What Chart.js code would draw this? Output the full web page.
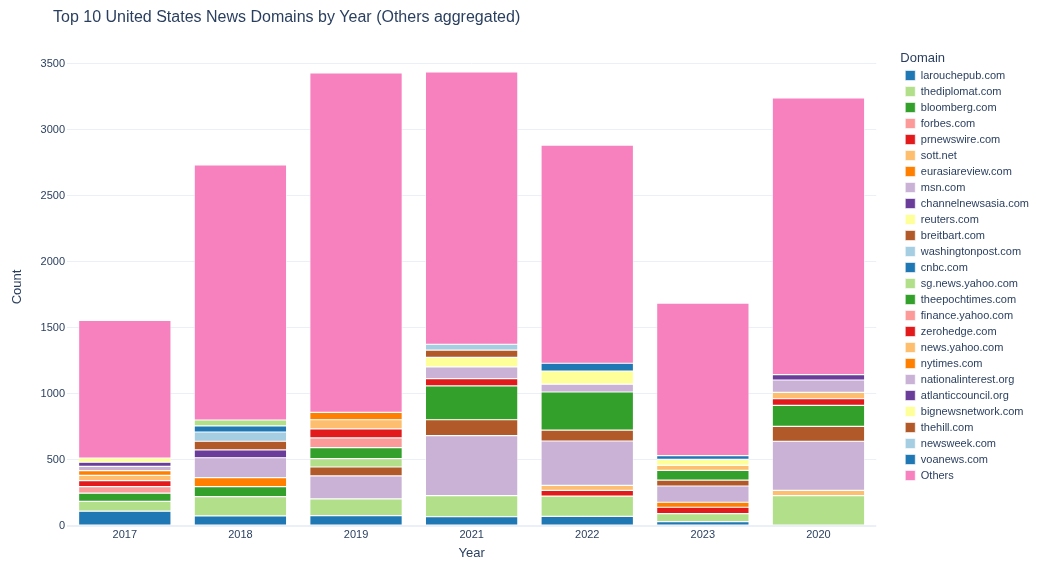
<!DOCTYPE html>
<html lang="en">
<head>
<meta charset="UTF-8">
<title>Top 10 United States News Domains by Year</title>
<script src="https://cdn.jsdelivr.net/npm/chart.js"></script>
<style>
  * { margin: 0; padding: 0; box-sizing: border-box; }
  body { background: #fff; width: 1046px; height: 565px; overflow: hidden; }
  canvas { display: block; }
</style>
</head>
<body>
<canvas id="chart" width="1046" height="565"></canvas>
<script>
// categories (bar order as in the picture)
const years = ['2017', '2018', '2019', '2021', '2022', '2023', '2020'];
const yTicks = [0, 500, 1000, 1500, 2000, 2500, 3000, 3500];

// counts per domain, one value per year above (null = not in that year's top 10)
const larouchepub      = [112,  76,   78,   70,   73,   33,   null];
const thediplomat      = [74,   146,  127,  160,  154,  60,   230];
const bloomberg        = [63,   76,   null, null, null, null, null];
const forbes           = [50,   null, null, null, null, null, null];
const prnewswire       = [44,   null, null, null, 43,   49,   null];
const sottNet          = [41,   null, null, null, 38,   null, 40];
const eurasiareview    = [35,   68,   null, null, null, 38,   null];
const msn              = [33,   151,  174,  454,  336,  123,  372];
const channelnewsasia  = [31,   59,   null, null, null, null, null];
const reuters          = [32,   null, null, null, null, null, null];
const breitbart        = [null, 66,   68,   121,  83,   45,   113];
const washingtonpost   = [null, 70,   null, null, null, null, null];
const cnbc             = [null, 46,   null, null, null, null, null];
const sgNewsYahoo      = [null, 45,   63,   null, null, null, null];
const theepochtimes    = [null, null, 83,   256,  288,  74,   159];
const financeYahoo     = [null, null, 74,   null, null, null, null];
const zerohedge        = [null, null, 68,   55,   null, null, 50];
const newsYahoo        = [null, null, 70,   null, null, 38,   49];
const nytimes          = [null, null, 56,   null, null, null, null];
const nationalinterest = [null, null, null, 89,   59,   null, 93];
const atlanticcouncil  = [null, null, null, null, null, null, 40];
const bignewsnetwork   = [null, null, null, 73,   100,  45,   null];
const thehill          = [null, null, null, 55,   null, null, null];
const newsweek         = [null, null, null, 44,   null, null, null];
const voanews          = [null, null, null, null, 59,   28,   null];
const others           = [1043, 1932, 2571, 2063, 1653, 1156, 2097];

const series = [
  ['larouchepub.com', larouchepub],
  ['thediplomat.com', thediplomat],
  ['bloomberg.com', bloomberg],
  ['forbes.com', forbes],
  ['prnewswire.com', prnewswire],
  ['sott.net', sottNet],
  ['eurasiareview.com', eurasiareview],
  ['msn.com', msn],
  ['channelnewsasia.com', channelnewsasia],
  ['reuters.com', reuters],
  ['breitbart.com', breitbart],
  ['washingtonpost.com', washingtonpost],
  ['cnbc.com', cnbc],
  ['sg.news.yahoo.com', sgNewsYahoo],
  ['theepochtimes.com', theepochtimes],
  ['finance.yahoo.com', financeYahoo],
  ['zerohedge.com', zerohedge],
  ['news.yahoo.com', newsYahoo],
  ['nytimes.com', nytimes],
  ['nationalinterest.org', nationalinterest],
  ['atlanticcouncil.org', atlanticcouncil],
  ['bignewsnetwork.com', bignewsnetwork],
  ['thehill.com', thehill],
  ['newsweek.com', newsweek],
  ['voanews.com', voanews],
  ['Others', others]
];

// Paired palette, cycled from its 2nd colour; Others gets pink
const paired = ['#A6CEE3', '#1F78B4', '#B2DF8A', '#33A02C', '#FB9A99', '#E31A1C',
                '#FDBF6F', '#FF7F00', '#CAB2D6', '#6A3D9A', '#FFFF99', '#B15928'];
const othersColor = '#F781BF';

const TEXT = '#2a3f5f';
const GRID = '#ebf0f8';
const FONT = '"Liberation Sans", Arial, sans-serif';
const TITLE = 'Top 10 United States News Domains by Year (Others aggregated)';

const datasets = series.map(([name, values], i) => ({
  label: name,
  data: values,
  backgroundColor: name === 'Others' ? othersColor : paired[(i + 1) % paired.length],
  borderColor: '#ffffff',
  borderWidth: 0.6,
  borderSkipped: false,
  barPercentage: 0.8,
  categoryPercentage: 1.0
}));

// chart title drawn at the left, like the original
const titlePlugin = {
  id: 'plotTitle',
  afterDraw(chart) {
    const ctx = chart.ctx;
    ctx.save();
    ctx.font = '16px ' + FONT;
    ctx.fillStyle = TEXT;
    ctx.textBaseline = 'middle';
    ctx.textAlign = 'left';
    ctx.fillText(TITLE, 53, 18);
    ctx.restore();
  }
};

new Chart(document.getElementById('chart'), {
  type: 'bar',
  data: { labels: years, datasets },
  plugins: [titlePlugin],
  options: {
    responsive: false,
    animation: false,
    devicePixelRatio: 1,
    layout: { padding: { top: 48, left: 0, right: 7, bottom: 0 } },
    plugins: {
      tooltip: { enabled: false },
      title: { display: false },
      legend: {
        position: 'right',
        align: 'start',
        title: {
          display: true,
          text: 'Domain',
          position: 'start',
          color: TEXT,
          font: { family: FONT, size: 13, lineHeight: 1 },
          padding: { top: 4, bottom: 0 }
        },
        labels: {
          color: TEXT,
          font: { family: FONT, size: 11 },
          boxWidth: 10,
          boxHeight: 10,
          padding: 5
        }
      }
    },
    scales: {
      x: {
        stacked: true,
        grid: { display: false, drawTicks: false },
        border: { display: false },
        ticks: { color: TEXT, font: { family: FONT, size: 11 }, padding: 2 },
        title: {
          display: true,
          text: 'Year',
          color: TEXT,
          font: { family: FONT, size: 13 },
          padding: { top: 4, bottom: 4 }
        },
        afterFit(scale) { scale.height = 39; }
      },
      y: {
        stacked: true,
        min: 0,
        max: 3621,
        grid: {
          color: GRID,
          lineWidth: c => (c.tick && c.tick.value === 0 ? 2 : 1),
          drawTicks: false
        },
        border: { display: false },
        ticks: {
          color: TEXT,
          font: { family: FONT, size: 11 },
          padding: 2,
          callback: v => String(v)
        },
        afterBuildTicks(scale) { scale.ticks = yTicks.map(v => ({ value: v })); },
        title: {
          display: true,
          text: 'Count',
          color: TEXT,
          font: { family: FONT, size: 13 },
          padding: { top: 10, bottom: 4 }
        },
        afterFit(scale) { scale.width = 67; }
      },
      // empty spacer between plot and legend
      gap: {
        type: 'linear',
        position: 'right',
        display: true,
        grid: { display: false },
        border: { display: false },
        ticks: { display: false },
        afterFit(scale) { scale.width = 24; }
      }
    }
  }
});
</script>
</body>
</html>
